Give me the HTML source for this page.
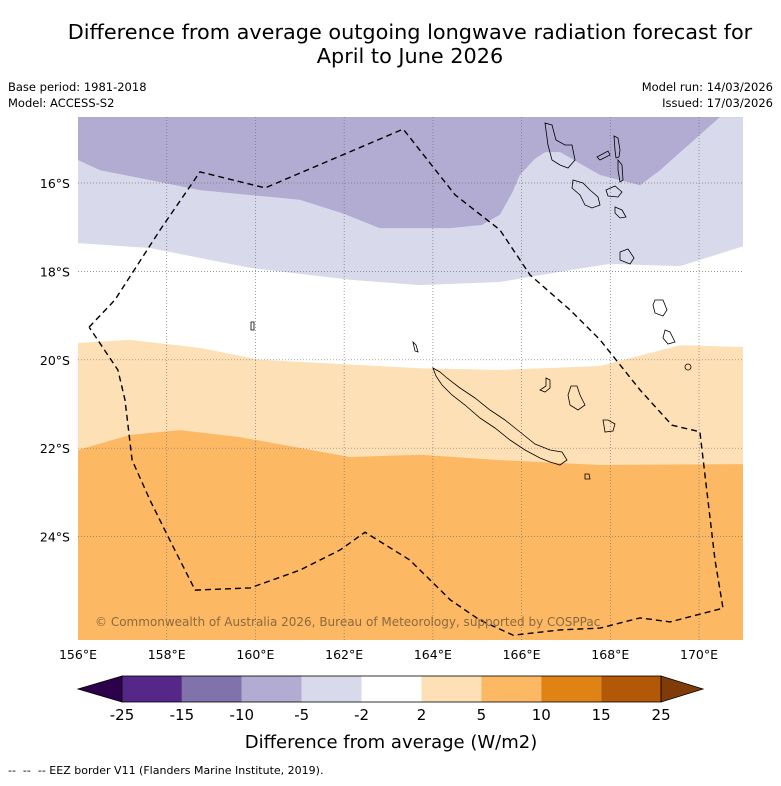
<!DOCTYPE html>
<html><head><meta charset="utf-8"><style>
body{margin:0;background:#fff;font-family:"Liberation Sans","DejaVu Sans",sans-serif}
svg text{font-family:"DejaVu Sans","Liberation Sans",sans-serif}
</style></head><body>
<svg id="chart" width="781" height="781" xmlns="http://www.w3.org/2000/svg">
<text x="410" y="39" font-size="20.8" text-anchor="middle">Difference from average outgoing longwave radiation forecast for</text>
<text x="410" y="63" font-size="20.8" text-anchor="middle">April to June 2026</text>
<text x="8" y="91" font-size="11.5">Base period: 1981-2018</text>
<text x="8" y="107" font-size="11.5">Model: ACCESS-S2</text>
<text x="773" y="91" font-size="11.5" text-anchor="end">Model run: 14/03/2026</text>
<text x="773" y="107" font-size="11.5" text-anchor="end">Issued: 17/03/2026</text>
<defs><clipPath id="mapclip"><rect x="78" y="117" width="665" height="523"/></clipPath></defs>
<g id="map" clip-path="url(#mapclip)"></g>
<g id="axes"></g>
<g id="cbar"></g>
<text x="391" y="748" font-size="18" text-anchor="middle">Difference from average (W/m2)</text>
<text x="8" y="774" font-size="11">-- &nbsp;-- &nbsp;-- EEZ border V11 (Flanders Marine Institute, 2019).</text>
</svg>
<script>
const purpleLon=[156,156.5,158.75,161.0,162.0,162.8,164.39,165.1,165.51,165.8,165.96,166.3,166.53,166.87,167.3,167.77,168.67,169.12,170.47,171];
const purpleLat=[15.48,15.71,16.16,16.38,16.7,17.02,17.02,16.95,16.72,16.2,15.82,15.45,15.3,15.3,15.55,15.82,16.05,15.71,14.51,14.51];
const lavLon=[156,157.62,159.88,162.13,163.71,165.51,166.87,167.99,169.57,171];
const lavLat=[17.36,17.47,17.92,18.19,18.31,18.24,18.01,17.83,17.88,17.43];
const whiteLon=[156,157.17,158.75,160.1,163.71,165.51,167.77,169.57,171];
const whiteLat=[19.62,19.55,19.73,20.0,20.19,20.23,20.14,19.67,19.71];
const lorangeLon=[156,157.17,158.3,159.65,162.13,163.71,165.51,167.77,171];
const lorangeLat=[22.04,21.70,21.59,21.75,22.2,22.15,22.27,22.38,22.36];
const eezLon=[156.25,156.83,157.85,158.75,160.22,163.33,164.5,165.51,166.19,167.09,167.77,168.67,169.39,170.02,170.2,170.36,170.54,169.35,168.67,167.77,166.87,165.81,165.06,164.39,163.48,162.47,161.91,161.0,159.88,158.64,158.07,157.62,157.22,157.06,156.9,156.25];
const eezLat=[19.26,18.65,17.06,15.75,16.11,14.78,16.27,17.06,18.08,18.87,19.55,20.68,21.48,21.63,23.17,24.53,25.62,25.93,25.84,26.07,26.11,26.23,25.89,25.43,24.53,23.9,24.3,24.76,25.16,25.21,24.08,23.17,22.27,20.91,20.23,19.26];
const lonTicks=[156,158,160,162,164,166,168,170];
const latTicks=[16,18,20,22,24];
const cbBounds=[-25,-15,-10,-5,-2,2,5,10,15,25];
const cbColors=['#542788','#8073ac','#b2abd2','#d8daeb','#ffffff','#fee0b6','#fdb863','#e08214','#b35806'];

const NS='http://www.w3.org/2000/svg';
const X=lon=>78+(lon-156)*44.36;
const Y=lat=>183+(lat-16)*44.2;
function mk(tag,attrs,parent){const e=document.createElementNS(NS,tag);for(const k in attrs)e.setAttribute(k,attrs[k]);parent.appendChild(e);return e;}
const map=document.getElementById('map');
let r=mk('rect',{x:78,y:117,width:665,height:523,fill:'#fdb863'},map);


function band(lons,lats,color,name){
  let d='M'+X(lons[0])+',110';
  for(let i=0;i<lons.length;i++)d+=' L'+X(lons[i]).toFixed(1)+','+Y(lats[i]).toFixed(1);
  d+=' L'+X(lons[lons.length-1])+',110 Z';
  const p=mk('path',{d:d,fill:color},map);
  
  
}
band(lorangeLon,lorangeLat,'#fee0b6','band-light-orange');
band(whiteLon,whiteLat,'#ffffff','band-white');
band(lavLon,lavLat,'#d8daeb','band-lavender');
band(purpleLon,purpleLat,'#b2abd2','band-purple');
lonTicks.forEach(l=>{if(l>156){const g=mk('line',{x1:X(l),x2:X(l),y1:117,y2:640,stroke:'#777','stroke-width':0.7,'stroke-dasharray':'1,2'},map);

}});
latTicks.forEach(l=>{const g=mk('line',{x1:78,x2:743,y1:Y(l),y2:Y(l),stroke:'#777','stroke-width':0.7,'stroke-dasharray':'1,2'},map);

});
const isl=[
"M433,368 L440,372 L447,378 L460,388 L475,398 L490,410 L505,420 L520,432 L535,444 L550,450 L562,452 L567,460 L560,465 L550,462 L540,458 L525,450 L510,440 L495,428 L480,418 L465,405 L452,395 L442,385 L436,376 Z",
"M545,123 L552,125 L556,140 L565,145 L572,145 L575,160 L568,168 L560,165 L552,160 L548,145 Z",
"M573,180 L583,183 L590,190 L598,197 L600,205 L592,208 L585,205 L580,195 L572,188 Z",
"M614,136 L618,138 L620,150 L619,157 L616,158 L615,150 Z","M618,160 L622,165 L623,180 L620,182 L618,170 Z",
"M597,157 L608,151 L610,155 L600,160 Z","M606,190 L615,186 L622,192 L618,197 L608,196 Z",
"M615,207 L622,210 L626,217 L620,218 L615,213 Z","M620,252 L628,249 L634,258 L630,264 L620,260 Z",
"M655,300 L663,300 L667,310 L663,316 L655,313 L653,305 Z","M665,330 L670,332 L675,342 L668,344 L663,338 Z",
"M571,386 L577,386 L580,395 L585,405 L578,410 L570,405 L568,395 Z","M603,420 L608,420 L615,424 L613,431 L605,432 Z",
"M546,378 L550,380 L550,388 L545,392 L540,390 L546,386 Z","M685,367 A3,3 0 1,0 691,367 A3,3 0 1,0 685,367 Z",
"M585,474 L589,474 L590,479 L585,479 Z","M251,322 L254,322 L254,330 L251,330 Z","M413,342 L416,345 L418,352 L415,351 Z"];
isl.forEach(d=>{const p=mk('path',{d:d,fill:'none',stroke:'#000','stroke-width':0.8},map);

});
let ed='';eezLon.forEach((l,i)=>{ed+=(i?' L':'M')+X(l).toFixed(1)+','+Y(eezLat[i]).toFixed(1);});
const ez=mk('path',{d:ed,fill:'none',stroke:'#000','stroke-width':1.4,'stroke-dasharray':'6,4'},map);


const cp=mk('text',{x:95,y:626,'font-size':12,fill:'#8a6a40'},map);
cp.textContent='© Commonwealth of Australia 2026, Bureau of Meteorology, supported by COSPPac';


const ax=document.getElementById('axes');
lonTicks.forEach(l=>{const t=mk('text',{x:X(l),y:659,'font-size':12.5,'text-anchor':'middle'},ax);t.textContent=l+'°E';

});
latTicks.forEach(l=>{const t=mk('text',{x:70,y:Y(l)+5,'font-size':12.5,'text-anchor':'end'},ax);t.textContent=l+'°S';

});
const cb=document.getElementById('cbar');
const cx0=122,cw=59.9,cy=676,ch=26;
let e1=mk('polygon',{points:`${cx0},${cy} ${cx0},${cy+ch} 78,${cy+ch/2}`,fill:'#2d004b',stroke:'#000','stroke-width':0.8},cb);


cbColors.forEach((c,i)=>{const s=mk('rect',{x:cx0+i*cw,y:cy,width:cw,height:ch,fill:c},cb);

});
const xe=cx0+cbColors.length*cw;
let e2=mk('polygon',{points:`${xe},${cy} ${xe},${cy+ch} 703,${cy+ch/2}`,fill:'#7f3b08',stroke:'#000','stroke-width':0.8},cb);


mk('rect',{x:cx0,y:cy,width:xe-cx0,height:ch,fill:'none',stroke:'#000','stroke-width':0.8},cb);
cbBounds.forEach((b,i)=>{const t=mk('text',{x:cx0+i*cw,y:720,'font-size':15,'text-anchor':'middle'},cb);t.textContent=b;

});
</script>
</body></html>
